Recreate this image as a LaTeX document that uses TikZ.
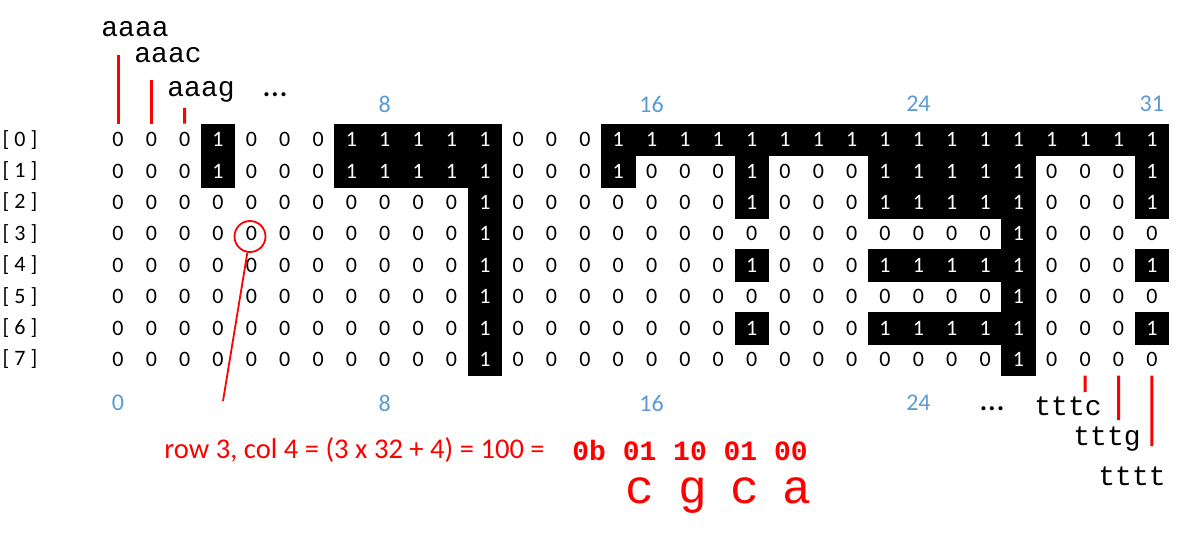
\documentclass[tikz,border=0pt]{standalone}
\usepackage{fontspec}
\setmainfont{Carlito}
\newfontfamily\codefont{Liberation Mono}
\usepackage{xcolor}
\usepackage{tikz}
\usetikzlibrary{positioning,calc,shapes}
\definecolor{idxblue}{HTML}{5B9BD5}
\definecolor{markred}{HTML}{FF0000}

\begin{document}
\begin{tikzpicture}[
    x=0.5pt, y=-0.5pt,
    cell/.style={rectangle, inner sep=0pt, minimum width=16.7pt, minimum height=15.75pt, font=\fontsize{11}{12}\selectfont},
    cell0/.style={cell},
    cell1/.style={cell, fill=black, draw=black, line width=0.3pt, text=white},
    rowlabel/.style={font=\fontsize{11}{12}\selectfont},
    colindex/.style={text=idxblue, font=\fontsize{12}{14}\selectfont},
    seq/.style={font=\codefont\fontsize{14}{16}\selectfont, anchor=base west, inner sep=0pt},
    base/.style={font=\codefont\fontsize{24}{26}\selectfont, text=markred, anchor=base, inner sep=0pt},
    marker/.style={draw=markred, line width=1.5pt},
    callout/.style={draw=markred, line width=0.9pt}
]
\useasboundingbox (0,0) rectangle (1187,555);

% Bit array: 8 rows x 32 columns
\foreach \bits [count=\r from 0] in {
    {0,0,0,1,0,0,0,1,1,1,1,1,0,0,0,1,1,1,1,1,1,1,1,1,1,1,1,1,1,1,1,1},
    {0,0,0,1,0,0,0,1,1,1,1,1,0,0,0,1,0,0,0,1,0,0,0,1,1,1,1,1,0,0,0,1},
    {0,0,0,0,0,0,0,0,0,0,0,1,0,0,0,0,0,0,0,1,0,0,0,1,1,1,1,1,0,0,0,1},
    {0,0,0,0,0,0,0,0,0,0,0,1,0,0,0,0,0,0,0,0,0,0,0,0,0,0,0,1,0,0,0,0},
    {0,0,0,0,0,0,0,0,0,0,0,1,0,0,0,0,0,0,0,1,0,0,0,1,1,1,1,1,0,0,0,1},
    {0,0,0,0,0,0,0,0,0,0,0,1,0,0,0,0,0,0,0,0,0,0,0,0,0,0,0,1,0,0,0,0},
    {0,0,0,0,0,0,0,0,0,0,0,1,0,0,0,0,0,0,0,1,0,0,0,1,1,1,1,1,0,0,0,1},
    {0,0,0,0,0,0,0,0,0,0,0,1,0,0,0,0,0,0,0,0,0,0,0,0,0,0,0,1,0,0,0,0}}{
    \node[rowlabel] (r-\r) at (20, {139.7+31.4*\r}) {[ \r\ ]};
    \foreach \b [count=\c from 0] in \bits {
        \node[cell\b] (c-\r-\c) at ({118+33.35*\c}, {139.7+31.4*\r}) {\b};
    }
}

% Column indices
\foreach \c in {8,16,24,31}
    \node[colindex] (top-\c) at ({118+33.35*\c}, 104) {\c};
\foreach \c in {0,8,16,24}
    \node[colindex] (bot-\c) at ({118+33.35*\c}, 403) {\c};

% First k-mers
\node[seq] (aaaa) at (101,37) {aaaa};
\node[seq] (aaac) at (134,63) {aaac};
\node[seq] (aaag) at (167,97) {aaag};
\node[font=\fontsize{17}{18}\selectfont, anchor=base west, inner sep=0pt] (dots-top) at (263,97) {…};
\coordinate (aaaa-end) at (118,55);
\coordinate (aaac-end) at (151.35,80);
\coordinate (aaag-end) at (184.7,108);
\draw[marker] (aaaa-end) -- (c-0-0.north);
\draw[marker] (aaac-end) -- (c-0-1.north);
\draw[marker] (aaag-end) -- (c-0-2.north);

% Last k-mers
\node[font=\fontsize{17}{18}\selectfont, anchor=base west, inner sep=0pt] (dots-bot) at (980,410) {…};
\node[seq] (tttc) at (1034,415) {tttc};
\node[seq] (tttg) at (1073,445) {tttg};
\node[seq] (tttt) at (1098,485) {tttt};
\coordinate (tttc-end) at (1085.2,392);
\coordinate (tttg-end) at (1118.5,420);
\coordinate (tttt-end) at (1151.9,446);
\draw[marker] (c-7-29.south) -- (tttc-end);
\draw[marker] (c-7-30.south) -- (tttg-end);
\draw[marker] (c-7-31.south) -- (tttt-end);

% Worked example
\node[circle, draw=markred, line width=0.9pt, minimum size=15.5pt, inner sep=0pt] (pick) at (250,236.5) {};
\coordinate (pick-end) at (223,401);
\draw[callout] (pick) -- (pick-end);
\node[text=markred, font=\fontsize{14.3}{16}\selectfont, anchor=west, inner sep=0pt] (formula) at (164,450) {row 3, col 4 = (3 x 32 + 4) = 100 =};
\node[text=markred, font=\codefont\bfseries\fontsize{14}{16}\selectfont, anchor=west, inner sep=0pt] (binary) at (572,450) {0b 01 10 01 00};
\node[base] (base-1) at (640,503) {c};
\node[base] (base-2) at (693,503) {g};
\node[base] (base-3) at (745,503) {c};
\node[base] (base-4) at (797,503) {a};

\end{tikzpicture}
\end{document}
